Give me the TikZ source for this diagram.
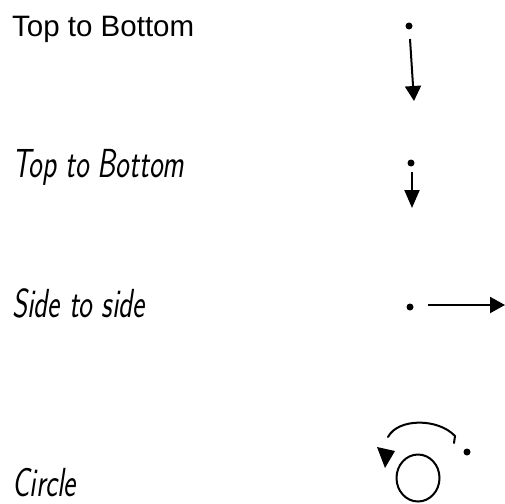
\documentclass[tikz,border=0pt]{standalone}
\usepackage{fontspec}
\setmainfont{Liberation Sans}
\usetikzlibrary{arrows.meta,shapes.geometric}
\newcommand{\handtxt}[1]{\scalebox{1}[1.4]{#1}}
\begin{document}
\begin{tikzpicture}[x=1pt,y=-1pt,
  lbl/.style={anchor=base west,inner sep=0pt},
  hand/.style={lbl,font=\fontsize{29}{32}\sffamily\slshape},
  pt/.style={fill=black,circle,inner sep=0pt,minimum size=7pt},
  arr/.style={line width=2pt,-{Triangle[length=15pt,width=16pt]}},
  arrb/.style={line width=2pt,-{Triangle[length=18pt,width=15pt]}},
  arrc/.style={line width=2pt,-{Triangle[length=15pt,width=16pt]}}]
\useasboundingbox (0,0) rectangle (505,503);
% labels
\node[lbl,font=\fontsize{29.5}{32}\selectfont] (t1) at (12,37) {Top to Bottom};
\node[hand] (t2) at (12,177) {\handtxt{Top to Bottom}};
\node[hand] (t3) at (12,317) {\handtxt{Side to side}};
\node[hand] (t4) at (12,496) {\handtxt{Circle}};
% first
\node[pt] (d1) at (409,26) {};
\coordinate (a1s) at (410,39);
\coordinate (a1e) at (414,101);
\draw[arr] (a1s) -- (a1e);
% second
\node[pt] (d2) at (411,163) {};
\coordinate (a2s) at (412,172);
\coordinate (a2e) at (412,208);
\draw[arrb] (a2s) -- (a2e);
% third
\node[pt] (d3) at (410,307) {};
\coordinate (a3s) at (428,305);
\coordinate (a3e) at (505,305);
\draw[arrc] (a3s) -- (a3e);
% circle
\node[pt] (d4) at (467,452) {};
\node[draw,line width=2pt,ellipse,minimum width=43pt,minimum height=47pt,inner sep=0pt] (c) at (418,478) {};
\coordinate (cs) at (388,437);
\coordinate (ce) at (454,443);
\draw[line width=2pt,line cap=round] (cs) .. controls (398,418) and (438,418) .. (455,436) -- (ce);
\fill (377,447) -- (395,451) -- (385,468) -- cycle;
\end{tikzpicture}
\end{document}
